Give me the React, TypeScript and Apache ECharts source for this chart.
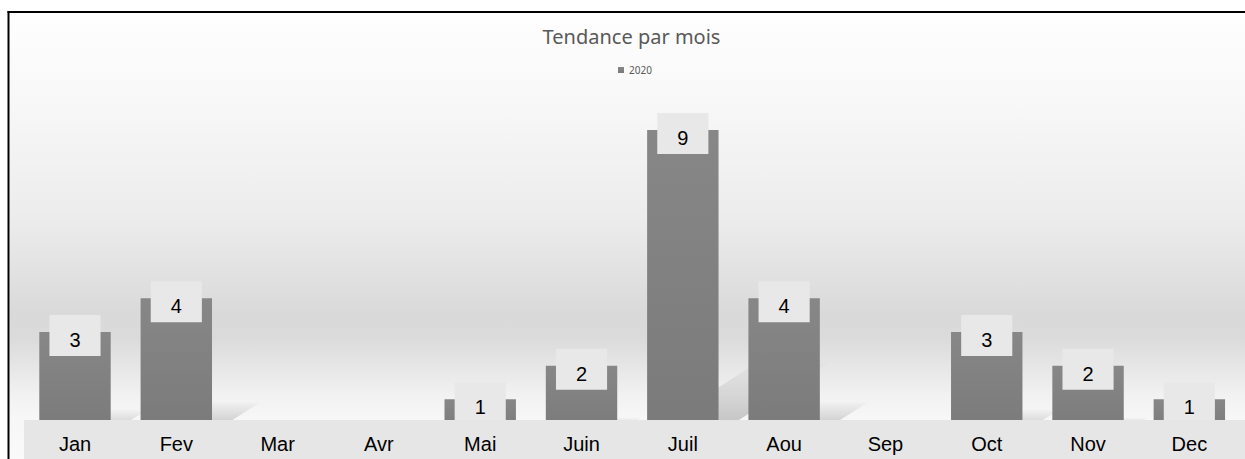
import React, { useEffect, useRef } from "react";
import * as echarts from "echarts";

const categories = ["Jan", "Fev", "Mar", "Avr", "Mai", "Juin", "Juil", "Aou", "Sep", "Oct", "Nov", "Dec"];
const values2020 = [3, 4, 0, 0, 1, 2, 9, 4, 0, 3, 2, 1];
const seriesName = "2020";
const titleText = "Tendance par mois";

export default function App() {
  const ref = useRef<HTMLDivElement>(null);

  useEffect(() => {
    document.body.style.margin = "0";
    document.body.style.overflow = "hidden";
    if (!ref.current) return;
    const chart = echarts.init(ref.current, null, { renderer: "svg" });

    const barData = values2020.map((v) =>
      v === 0 ? { value: v, label: { show: false } } : { value: v }
    );
    const shadowData = values2020.map((v, i) => [i, v]);

    const option: any = {
      animation: false,
      backgroundColor: "#ffffff",
      title: {
        text: titleText,
        left: 631.5,
        textAlign: "center",
        top: 26,
        padding: 0,
        textStyle: {
          fontFamily: "Noto Sans",
          fontSize: 20,
          fontWeight: "normal",
          color: "#595959",
        },
      },
      legend: {
        data: [seriesName],
        left: 613,
        top: 60,
        icon: "rect",
        itemWidth: 6,
        itemHeight: 6,
        textStyle: { fontFamily: "Noto Sans", fontSize: 10, color: "#595959" },
      },
      grid: { left: 24.35, right: 5, top: 96.3, bottom: 26 },
      xAxis: {
        type: "category",
        data: categories,
        z: 20,
        axisLine: { show: false },
        axisTick: { show: false },
        splitLine: { show: false },
        axisLabel: {
          interval: 0,
          margin: 1,
          fontFamily: "Liberation Sans, Arial",
          fontSize: 20,
          color: "#000000",
        },
      },
      yAxis: {
        type: "value",
        min: 0,
        max: 10,
        show: false,
        splitLine: { show: false },
      },
      graphic: [
        {
          type: "rect",
          z: -10,
          silent: true,
          shape: { x: 9.5, y: 13, width: 1240, height: 446 },
          style: {
            fill: new echarts.graphic.LinearGradient(0, 0, 0, 1, [
              { offset: 0, color: "#fefefe" },
              { offset: 0.2, color: "#f8f8f8" },
              { offset: 0.46, color: "#ececec" },
              { offset: 0.68, color: "#d9d9d9" },
              { offset: 0.73, color: "#dbdbdb" },
              { offset: 0.86, color: "#f2f2f2" },
              { offset: 0.91, color: "#f7f7f7" },
              { offset: 1, color: "#fafafa" },
            ]),
          },
        },
        {
          type: "rect",
          z: 10,
          silent: true,
          shape: { x: 24, y: 420, width: 1230, height: 45 },
          style: { fill: "#e6e6e6" },
        },
        {
          type: "line",
          z: 30,
          silent: true,
          shape: { x1: 8.5, y1: 11, x2: 8.5, y2: 470 },
          style: { stroke: "#000000", lineWidth: 2 },
        },
        {
          type: "line",
          z: 30,
          silent: true,
          shape: { x1: 7.5, y1: 12, x2: 1260, y2: 12 },
          style: { stroke: "#000000", lineWidth: 2 },
        },
      ],
      series: [
        {
          type: "custom",
          name: "shadow",
          z: 1,
          silent: true,
          data: shadowData,
          encode: { x: 0, y: 1 },
          renderItem: (params: any, api: any) => {
            const idx = api.value(0);
            const v = api.value(1);
            if (!v) return { type: "group", children: [] };
            const base = api.coord([idx, 0]);
            const top = api.coord([idx, v]);
            const band = api.size([1, 0])[0];
            const w = band * 0.705;
            const h = base[1] - top[1];
            const xL = base[0] - w / 2;
            const xR = base[0] + w / 2;
            const dx = h * 0.36;
            const dy = h * 0.23;
            return {
              type: "polygon",
              shape: {
                points: [
                  [xL, base[1]],
                  [xR, base[1]],
                  [xR + dx, base[1] - dy],
                  [xL + dx, base[1] - dy],
                ],
              },
              style: {
                fill: new echarts.graphic.LinearGradient(0, 0, 0, 1, [
                  { offset: 0, color: "rgba(0,0,0,0.01)" },
                  { offset: 1, color: "rgba(0,0,0,0.24)" },
                ]),
              },
            };
          },
        },
        {
          type: "bar",
          name: seriesName,
          z: 2,
          data: barData,
          barCategoryGap: "29.5%",
          itemStyle: {
            color: new echarts.graphic.LinearGradient(0, 0, 0, 1, [
              { offset: 0, color: "#878787" },
              { offset: 1, color: "#7a7a7a" },
            ]),
          },
          label: {
            show: true,
            position: "top",
            distance: 0,
            offset: [0, 24],
            fontFamily: "Liberation Sans, Arial",
            fontSize: 20,
            lineHeight: 20,
            color: "#000000",
            backgroundColor: "#e8e8e8",
            padding: [15, 20, 6, 20],
          },
        },
      ],
    };

    chart.setOption(option);
    return () => chart.dispose();
  }, []);

  return <div ref={ref} style={{ width: 1245, height: 459 }} />;
}
